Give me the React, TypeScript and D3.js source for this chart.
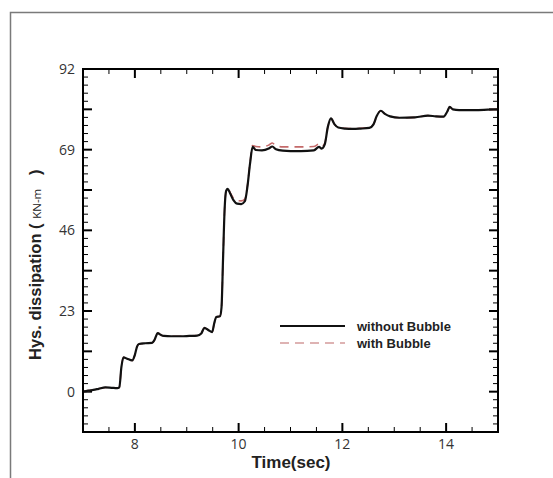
import React from "react";
import * as d3 from "d3";

// Time samples (s) shared by both runs
const times = [
  7.0, 7.1, 7.2, 7.3, 7.43, 7.55, 7.66, 7.7, 7.74, 7.78, 7.85, 7.95, 8.0, 8.04, 8.08, 8.2,
  8.33, 8.38, 8.44, 8.5, 8.56, 8.7, 8.88, 9.05, 9.2, 9.28, 9.34, 9.42, 9.49, 9.53, 9.57, 9.64,
  9.67, 9.7, 9.73, 9.76, 9.79, 9.84, 9.9, 9.97, 10.05, 10.12, 10.17, 10.22, 10.27, 10.33, 10.45,
  10.58, 10.65, 10.72, 10.85, 11.0, 11.2, 11.45, 11.55, 11.6, 11.66, 11.72, 11.78, 11.85, 11.92,
  12.05, 12.2, 12.35, 12.52, 12.6, 12.66, 12.74, 12.82, 12.92, 13.1, 13.4, 13.65, 13.8, 13.95,
  14.02, 14.07, 14.13, 14.25, 14.55, 14.8, 15.0,
];

// Hysteretic dissipation (KN-m), structure without bubble
const withoutBubble = [
  0.0, 0.3, 0.5, 0.8, 1.2, 1.1, 1.0, 1.2, 7.0, 9.8, 9.4, 8.9, 10.5, 12.8, 13.6, 13.8,
  13.9, 14.8, 16.7, 16.2, 15.9, 15.8, 15.8, 15.9, 16.0, 16.6, 18.2, 17.5, 17.0, 19.5, 21.3, 21.5,
  24.0, 38.0, 52.0, 57.3, 57.8, 56.4, 54.6, 53.6, 53.5, 54.3, 58.5, 65.0, 69.8, 68.9, 68.8,
  69.3, 69.9, 69.1, 68.7, 68.6, 68.6, 68.8, 69.8, 69.3, 70.5, 75.5, 77.9, 76.2, 75.3,
  75.0, 74.9, 75.0, 75.2, 76.2, 78.5, 80.1, 79.2, 78.5, 78.1, 78.2, 78.7, 78.5, 78.4,
  79.8, 81.2, 80.5, 80.3, 80.3, 80.4, 80.5,
];

// Hysteretic dissipation (KN-m), structure with bubble
const withBubble = [
  0.0, 0.3, 0.5, 0.8, 1.2, 1.1, 1.0, 1.2, 7.0, 9.8, 9.4, 8.9, 10.5, 12.8, 13.6, 13.8,
  13.9, 14.8, 16.7, 16.2, 15.9, 15.8, 15.8, 15.9, 16.0, 16.6, 18.2, 17.5, 17.0, 19.5, 21.3, 21.5,
  24.0, 38.0, 52.0, 57.3, 57.9, 56.7, 55.2, 54.5, 54.4, 54.9, 58.8, 65.3, 70.2, 69.9, 69.8,
  70.3, 70.9, 70.1, 69.8, 69.8, 69.8, 69.9, 70.6, 69.9, 70.8, 75.5, 77.9, 76.2, 75.4,
  75.1, 75.0, 75.1, 75.3, 76.2, 78.5, 80.1, 79.2, 78.5, 78.1, 78.2, 78.7, 78.5, 78.4,
  79.8, 81.2, 80.5, 80.3, 80.3, 80.4, 80.5,
];

const xLabelTicks = [8, 10, 12, 14];
const yLabelTicks = [0, 23, 46, 69, 92];
const legendLabels = ["without Bubble", "with Bubble"];

const W = 553;
const H = 478;
const plot = { left: 83, right: 498, top: 69, bottom: 432 };

export default function App() {
  const x = d3.scaleLinear().domain([7, 15]).range([plot.left, plot.right]);
  const y = d3.scaleLinear().domain([-11.5, 92]).range([plot.bottom, plot.top]);

  const line = d3
    .line<number>()
    .x((_, i) => x(times[i]))
    .y((v) => y(v))
    .curve(d3.curveMonotoneX);

  const xMinor = d3.range(7, 15.001, 0.5).filter((t) => Math.abs(t % 2) > 1e-6);
  const xMajor = xLabelTicks;
  const yMajor = d3.range(0, 8).map((i) => i * 11.5);
  const yMinor = d3
    .range(-11.5, 92.001, 2.3)
    .filter((v) => !yMajor.some((m) => Math.abs(m - v) < 1e-6) && v > -11.4 && v < 91.9);

  const tickFont = "'Open Sans', 'DejaVu Sans', sans-serif";
  const boldFont = "'Liberation Sans', Arial, sans-serif";
  const majorLen = 9;
  const minorLen = 5;

  return (
    <svg width={W} height={H} style={{ position: "absolute", left: 0, top: 0, background: "#fff" }}>
      {/* outer frame */}
      <path d={`M10.5,${H} L10.5,12.5 L${W},12.5`} fill="none" stroke="#7a7a7a" strokeWidth={1.5} />

      {/* ticks on all four sides, pointing inward */}
      <g stroke="#000" strokeWidth={1.5}>
        {xMajor.map((t) => (
          <g key={"xM" + t}>
            <line x1={x(t)} x2={x(t)} y1={plot.bottom} y2={plot.bottom - majorLen} strokeWidth={2} />
            <line x1={x(t)} x2={x(t)} y1={plot.top} y2={plot.top + majorLen} strokeWidth={2} />
          </g>
        ))}
        {xMinor.map((t) => (
          <g key={"xm" + t}>
            <line x1={x(t)} x2={x(t)} y1={plot.bottom} y2={plot.bottom - minorLen} strokeWidth={1} />
            <line x1={x(t)} x2={x(t)} y1={plot.top} y2={plot.top + minorLen} strokeWidth={1} />
          </g>
        ))}
        {yMajor.map((v) => (
          <g key={"yM" + v}>
            <line x1={plot.left} x2={plot.left + majorLen} y1={y(v)} y2={y(v)} strokeWidth={2} />
            <line x1={plot.right} x2={plot.right - majorLen} y1={y(v)} y2={y(v)} strokeWidth={2} />
          </g>
        ))}
        {yMinor.map((v) => (
          <g key={"ym" + v}>
            <line x1={plot.left} x2={plot.left + minorLen} y1={y(v)} y2={y(v)} strokeWidth={1} />
            <line x1={plot.right} x2={plot.right - minorLen} y1={y(v)} y2={y(v)} strokeWidth={1} />
          </g>
        ))}
      </g>

      {/* series */}
      <path d={line(withBubble) ?? ""} fill="none" stroke="#c46a6a" strokeWidth={1.6} strokeDasharray="9,6" />
      <path d={line(withoutBubble) ?? ""} fill="none" stroke="#111" strokeWidth={2.2} strokeLinejoin="round" />

      {/* plot frame */}
      <rect
        x={plot.left}
        y={plot.top}
        width={plot.right - plot.left}
        height={plot.bottom - plot.top}
        fill="none"
        stroke="#000"
        strokeWidth={2}
      />

      {/* tick labels */}
      <g fontFamily={tickFont} fontSize={14} fill="#333">
        {xLabelTicks.map((t) => (
          <text key={"xl" + t} x={x(t)} y={449} textAnchor="middle">
            {t}
          </text>
        ))}
        {yLabelTicks.map((v) => (
          <text key={"yl" + v} x={75} y={y(v)} dy="0.35em" textAnchor="end">
            {v}
          </text>
        ))}
      </g>

      {/* axis titles */}
      <text x={291} y={468} textAnchor="middle" fontFamily={boldFont} fontWeight="bold" fontSize={17} fill="#222">
        Time(sec)
      </text>
      <text
        transform="translate(41,360) rotate(-90)"
        fontFamily={boldFont}
        fontWeight="bold"
        fontSize={16.5}
        fill="#222"
        style={{ whiteSpace: "pre" }}
      >
        <tspan>Hys. dissipation ( </tspan>
        <tspan fontFamily={tickFont} fontWeight="normal" fontSize={11.5}>KN-m</tspan>
        <tspan>{"   )"}</tspan>
      </text>

      {/* legend */}
      <g fontFamily={boldFont} fontWeight="bold" fontSize={13} fill="#222">
        <line x1={280} x2={345} y1={326} y2={326} stroke="#111" strokeWidth={2} />
        <text x={357} y={330.5}>{legendLabels[0]}</text>
        <line x1={280} x2={345} y1={343} y2={343} stroke="#d49a9a" strokeWidth={1.6} strokeDasharray="9,6" />
        <text x={357} y={347.5}>{legendLabels[1]}</text>
      </g>
    </svg>
  );
}
